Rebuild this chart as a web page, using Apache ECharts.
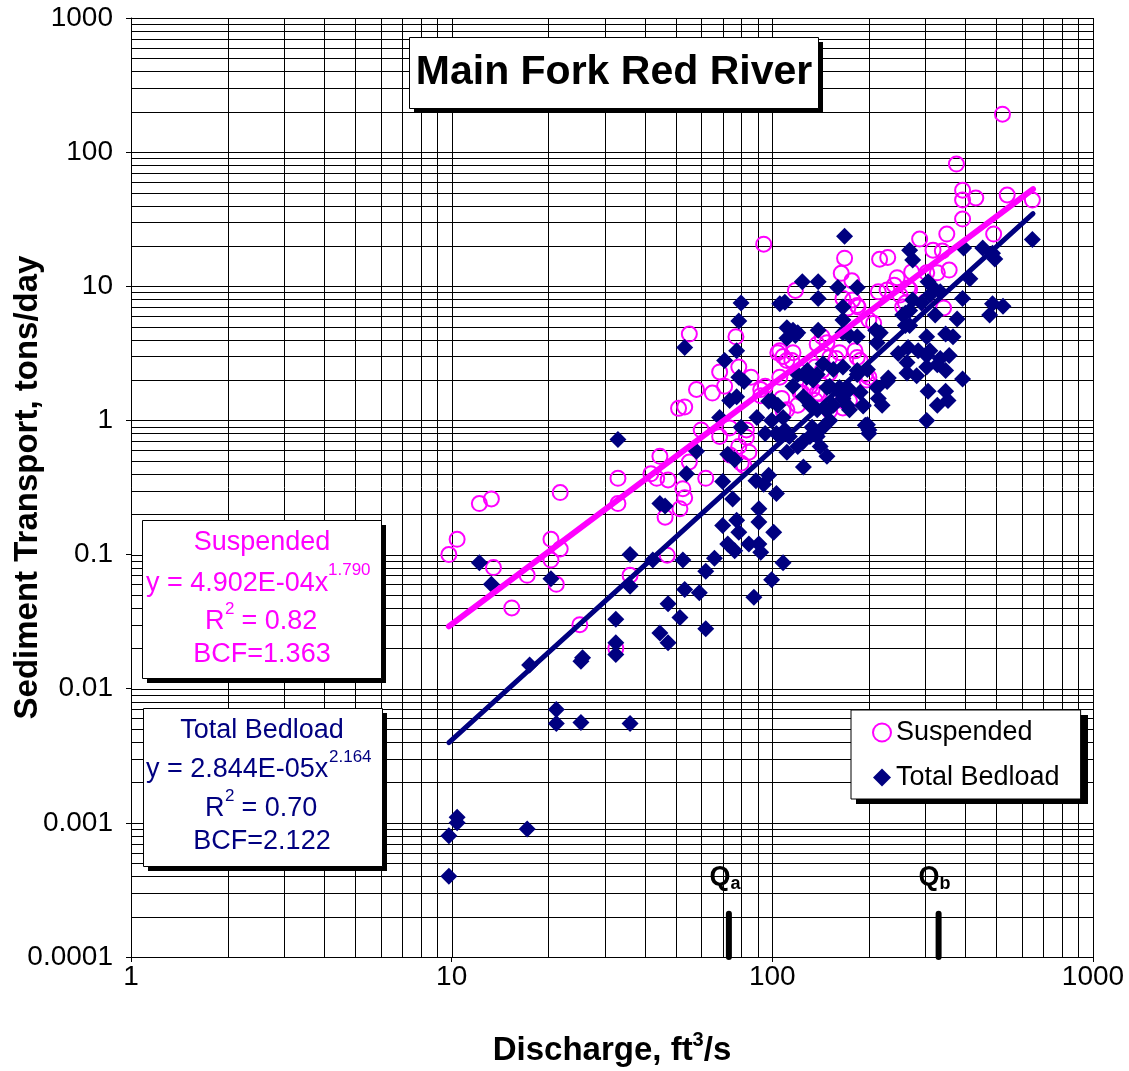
<!DOCTYPE html>
<html lang="en">
<head>
    <meta charset="UTF-8">
    <title>Main Fork Red River</title>
    <script src="https://cdn.jsdelivr.net/npm/echarts@6/dist/echarts.min.js"></script>
    <style>
        html, body { margin: 0; padding: 0; background: #fff; }
        #chart { width: 1129px; height: 1071px; }
    </style>
</head>
<body>
<div id="chart"></div>
<script>
    // suspended sediment samples: discharge (ft3/s) and load (tons/day)
    var susQ = [9.8, 10.4, 12.2, 13.3, 13.5, 15.4, 17.2, 20.4, 21.8, 20.4, 21.2, 21.8, 25.1, 33, 33, 36, 32.5,
        44.6, 41.8, 47.3, 46.3, 47, 51.5, 52.6, 53.3, 43.6, 51, 53.3, 55.1, 58, 60, 55.1, 62, 65, 68.5, 71,
        68.5, 73.6, 74, 77, 78.6, 78.6, 80, 81.6, 83, 83, 84.5, 85.8, 92, 95, 94, 92, 105.5, 104, 108, 111,
        107, 105.5, 111, 108, 116, 118, 115, 122, 122, 124, 131, 133, 138, 140, 136, 120, 136, 143, 151,
        138, 148, 144, 151, 143, 162, 158, 184, 188, 151, 166, 166, 174, 168, 164, 177, 166, 178, 185, 172,
        197, 200, 181, 195, 207, 184, 200, 214, 228, 240, 216, 229, 245, 265, 272, 268, 255, 260, 250, 299,
        303, 327, 342, 356, 288, 317, 339, 350, 392, 490, 375, 392, 392, 431, 540, 647, 522];
    var susLoad = [0.1, 0.13, 0.24, 0.26, 0.08, 0.04, 0.07, 0.13, 0.11, 0.091, 0.06, 0.29, 0.03, 0.37, 0.24, 0.07, 0.02,
        0.54, 0.40, 0.36, 0.19, 0.099, 0.22, 0.31, 0.265, 0.37, 1.23, 1.26, 4.4, 1.7, 0.85, 0.49, 0.37, 1.6, 2.3, 1.8,
        0.76, 0.88, 0.55, 4.2, 2.5, 0.64, 0.48, 0.46, 0.75, 0.85, 0.58, 2.1, 1.7, 1.8, 20.6, 1.53, 3.3, 3.2, 3.0, 2.8,
        1.46, 2.1, 1.2, 1.18, 3.2, 9.3, 2.8, 2.3, 1.62, 1.6, 1.8, 1.7, 1.6, 1.58, 1.41, 1.3, 2.5, 2.36, 2.26,
        3.7, 3.8, 3.15, 2.95, 4.2, 3.2, 2.9, 2.95, 2.8, 1.18, 1.4, 1.24, 1.4, 16.2, 12.5, 11.0, 8.1, 7.9, 7.0, 6.9,
        2.0, 2.1, 3.3, 2.2, 5.3, 7.2, 5.6, 9.1, 9.4, 10.2, 15.9, 16.4, 11.6, 9.7, 12.8, 9.5, 7.0, 7.5, 8.6, 7.6,
        12.6, 12.6, 6.9, 13.2, 22.5, 18.6, 18.3, 24.5, 31.7, 24.5, 81.5, 52, 44, 45.5, 47.9, 43.9, 192];

    // total bedload samples
    var bedQ = [9.8, 9.8, 10.4, 10.4, 17.2, 12.2, 13.3, 17.5, 20.4, 21.2, 21.2, 25.3, 25.3, 25.6, 33, 36, 36, 32.5,
        32.5, 32.5, 36, 44.6, 46.3, 42.4, 47.3, 44.6, 47.3, 52.6, 53.3, 59.2, 51.5, 62, 62, 66, 54, 58, 53.3,
        70, 75.2, 70, 77.4, 78.6, 72.6, 76.3, 84.5, 90.8, 92, 90.8, 90.8, 101, 103, 94, 88.9, 97.4, 108, 99.5,
        87.6, 79.9, 78.6, 71, 77.4, 78.6, 81.6, 73.6, 77.4, 89.5, 99.5, 99.5, 68.5, 79.9, 72.6, 76.3, 109.4,
        105.5, 111, 116, 111, 116, 109.4, 105.5, 95, 103, 97.4, 104, 108, 128.6, 138, 151, 162, 131, 148, 151,
        144, 131, 125, 148, 133, 138, 141, 125, 113, 120, 111, 166, 171, 174, 192, 200, 198, 168, 124, 139, 139,
        160, 184, 166, 166, 120, 139, 166, 118, 174, 184, 210, 217, 255, 268, 292, 317, 310, 268, 274, 247, 265,
        285, 303, 263, 303, 327, 347, 144, 155, 166, 184, 198, 120, 128, 134, 148, 162, 174, 188, 212, 228, 125,
        131, 138, 155, 192, 214, 220, 647, 395, 453, 486, 494, 306, 334, 413, 392, 274, 260, 322, 377, 486, 524,
        476, 260, 268, 303, 347, 366, 212, 310, 356, 334, 184, 263, 282, 230, 392, 306, 347, 353, 327, 303, 195, 200];
    var bedLoad = [0.0008, 0.0004, 0.0011, 0.001, 0.0009, 0.087, 0.06, 0.015, 0.066, 0.007, 0.0055, 0.0056, 0.016,
        0.017, 0.72, 0.1, 0.058, 0.033, 0.022, 0.018, 0.0055, 0.24, 0.23, 0.091, 0.043, 0.026, 0.022, 0.091, 0.055,
        0.052, 0.034, 0.028, 0.075, 0.094, 0.4, 0.59, 3.5, 0.35, 0.26, 0.165, 0.18, 0.147, 0.12, 0.107, 0.12, 0.12,
        0.104, 0.175, 0.22, 0.147, 0.285, 0.335, 0.355, 0.39, 0.087, 0.065, 0.048, 7.5, 5.5, 2.8, 3.3, 2.1, 1.95,
        1.41, 1.5, 1.05, 1.0, 1.41, 1.05, 0.89, 0.56, 0.51, 7.6, 7.4, 4.9, 4.7, 4.1, 1.8, 0.85, 0.76, 0.8, 0.8,
        1.39, 1.3, 1.05, 2.36, 2.2, 1.8, 1.62, 1.35, 1.18, 1.0, 0.89, 0.76, 0.45, 0.54, 0.89, 0.76, 0.64, 0.7,
        0.76, 0.64, 0.58, 1.46, 1.3, 1.2, 1.28, 0.85, 0.93, 23.6, 10.8, 10.8, 8.1, 9.8, 9.8, 7.0, 5.6, 4.5, 4.7,
        4.5, 4.3, 4.3, 4.2, 4.7, 4.5, 6.1, 6.6, 7.5, 9.8, 8.6, 18.6, 15.7, 3.15, 3.5, 3.3, 3.05, 2.7, 2.5, 2.6,
        2.36, 2.65, 2.4, 2.5, 2.36, 2.4, 2.2, 2.1, 2.0, 1.76, 1.76, 1.7, 1.62, 1.76, 1.95, 1.5, 1.3, 1.2, 1.3,
        1.3, 1.46, 1.3, 22.3, 19.3, 19.3, 17.6, 16, 10.8, 9.1, 11.4, 8.1, 7.9, 6.3, 6.1, 5.7, 7.4, 7.1, 6.1,
        5.1, 5.1, 4.2, 4.4, 4.2, 3.8, 3.3, 3.05, 2.9, 2.2, 2.26, 2.15, 2.07, 2.04, 1.65, 1.65, 1.41, 1.3, 1.0, 0.92, 0.8];

    // fitted power-law trend lines (end points)
    var susTrendQ = [9.8, 650];
    var susTrendLoad = [0.0292, 53];
    var bedTrendQ = [9.8, 650];
    var bedTrendLoad = [0.00397, 34.8];

    // discharge markers Qa and Qb
    var markerNames = ['a', 'b'];
    var markerQ = [73.2, 330];
    var markerBase = 0.0001;
    var markerTop = 0.00021;

    // axes
    var xTickLabels = ['1', '10', '100', '1000'];
    var yTickLabels = ['0.0001', '0.001', '0.01', '0.1', '1', '10', '100', '1000'];
    var xDecades = [1, 10, 100];
    var yDecades = [0.0001, 0.001, 0.01, 0.1, 1, 10, 100];
    var mantissas = [1, 2, 3, 4, 5, 6, 7, 8, 9];

    var FONT = "'Liberation Sans', Arial, sans-serif";
    var PINK = '#FF00FF';
    var NAVY = '#000080';

    function zip(a, b) {
        return a.map(function (v, i) { return [v, b[i]]; });
    }

    function gridValues(decades, top) {
        var out = [];
        decades.forEach(function (d) {
            mantissas.forEach(function (m) { out.push(+(d * m).toPrecision(3)); });
        });
        out.push(top);
        return out;
    }

    var xGrid = gridValues(xDecades, 1000);
    var yGrid = gridValues(yDecades, 1000);

    function gridSeries(vals, dir) {
        return {
            type: 'custom',
            silent: true,
            z: 1,
            data: vals.map(function (v) { return dir === 'x' ? [v, 1] : [1, v]; }),
            renderItem: function (params, api) {
                var cs = params.coordSys;
                var p = api.coord([api.value(0), api.value(1)]);
                var shape;
                if (dir === 'x') {
                    var x = Math.round(p[0]) + 0.5;
                    shape = {x1: x, y1: cs.y, x2: x, y2: cs.y + cs.height};
                } else {
                    var y = Math.round(p[1]) + 0.5;
                    shape = {x1: cs.x, y1: y, x2: cs.x + cs.width, y2: y};
                }
                return {type: 'line', shape: shape, style: {stroke: '#000', lineWidth: 1}};
            }
        };
    }

    function decadeLabel(labels, offset) {
        return function (v) {
            var i = Math.round(Math.log10(v)) + offset;
            return labels[i] !== undefined ? labels[i] : '';
        };
    }

    function txt(text, x, y, size, color, align, bold) {
        return {
            type: 'text', z: 22, x: x, y: y,
            style: {
                text: text, fill: color, align: align || 'left', verticalAlign: 'middle',
                font: (bold ? 'bold ' : '') + size + 'px ' + FONT
            }
        };
    }

    function box(x, y, w, h, zBase) {
        return [
            {type: 'rect', z: zBase, shape: {x: x + 5, y: y + 5, width: w, height: h}, style: {fill: '#000'}},
            {type: 'rect', z: zBase + 1, shape: {x: x + 0.5, y: y + 0.5, width: w, height: h},
                style: {fill: '#fff', stroke: '#000', lineWidth: 1}}
        ];
    }

    var graphics = [].concat(
        box(409, 37, 409, 71, 20),
        [txt('Main Fork Red River', 614, 73, 41, '#000', 'center', true)],
        box(142, 520, 239, 158, 20),
        [
            txt('Suspended', 262, 543, 27, PINK, 'center'),
            txt('y = 4.902E-04x', 146, 584, 27, PINK),
            txt('1.790', 328, 570, 17, PINK),
            txt('R', 205, 622, 27, PINK),
            txt('2', 225, 609, 17, PINK),
            txt(' = 0.82', 234, 622, 27, PINK),
            txt('BCF=1.363', 262, 655, 27, PINK, 'center')
        ],
        box(143, 708, 239, 158, 20),
        [
            txt('Total Bedload', 262, 731, 27, NAVY, 'center'),
            txt('y = 2.844E-05x', 146, 770, 27, NAVY),
            txt('2.164', 329, 757, 17, NAVY),
            txt('R', 205, 809, 27, NAVY),
            txt('2', 225, 796, 17, NAVY),
            txt(' = 0.70', 234, 809, 27, NAVY),
            txt('BCF=2.122', 262, 842, 27, NAVY, 'center')
        ],
        [{type: 'rect', z: 3, shape: {x: 856, y: 715, width: 232, height: 89}, style: {fill: '#000'}}]
    );

    var markerSeries = markerQ.map(function (q, i) {
        return {
            type: 'line', z: 7, silent: true, symbol: 'none',
            data: [[q, markerBase], [q, markerTop]],
            lineStyle: {color: '#000', width: 6, cap: 'round', opacity: 1}
        };
    });

    var markerLabels = {
        type: 'scatter', z: 7, silent: true, symbolSize: 1,
        itemStyle: {color: 'rgba(0,0,0,0)', opacity: 1},
        data: markerQ.map(function (q, i) { return {name: markerNames[i], value: [q, markerTop]}; }),
        label: {
            show: true, position: 'top', distance: 20, offset: [-4, 0],
            formatter: function (p) { return '{q|Q}{s|' + p.name + '}'; },
            rich: {
                q: {fontFamily: FONT, fontSize: 27, fontWeight: 'bold', color: '#000'},
                s: {fontFamily: FONT, fontSize: 18, fontWeight: 'bold', color: '#000',
                    verticalAlign: 'bottom', padding: [14, 0, 0, 0]}
            }
        }
    };

    var chart = echarts.init(document.getElementById('chart'));
    chart.setOption({
        animation: false,
        backgroundColor: '#fff',
        textStyle: {fontFamily: FONT},
        grid: {left: 131, top: 18, right: 36, bottom: 114, outerBoundsMode: 'none', containLabel: false},
        legend: {
            orient: 'vertical', left: 851, top: 710,
            data: ['Suspended', 'Total Bedload'],
            itemWidth: 18, itemHeight: 18, itemGap: 18,
            padding: [9, 21, 8, 21],
            backgroundColor: '#fff', borderColor: '#000', borderWidth: 1,
            textStyle: {fontFamily: FONT, fontSize: 27, color: '#000'}
        },
        xAxis: {
            type: 'log', logBase: 10, min: 1, max: 1000, splitNumber: 3,
            name: '{b|Discharge, ft}{s|3}{b|/s}', nameLocation: 'middle', nameGap: 73,
            nameMoveOverlap: false,
            nameTextStyle: {
                rich: {
                    b: {fontFamily: FONT, fontSize: 33, fontWeight: 'bold', color: '#000'},
                    s: {fontFamily: FONT, fontSize: 20, fontWeight: 'bold', color: '#000',
                        verticalAlign: 'top', padding: [0, 0, 21, 0]}
                }
            },
            axisLine: {lineStyle: {color: '#000', width: 1}},
            axisTick: {show: true, length: 5, lineStyle: {color: '#000'}},
            axisLabel: {fontFamily: FONT, fontSize: 28, color: '#000', margin: 6,
                formatter: decadeLabel(xTickLabels, 0)},
            splitLine: {show: false}
        },
        yAxis: {
            type: 'log', logBase: 10, min: 0.0001, max: 1000, splitNumber: 7,
            name: 'Sediment Transport, tons/day', nameLocation: 'middle', nameRotate: 90, nameGap: 87,
            nameMoveOverlap: false,
            nameTextStyle: {fontFamily: FONT, fontSize: 33, fontWeight: 'bold', color: '#000'},
            axisLine: {lineStyle: {color: '#000', width: 1}},
            axisTick: {show: true, length: 5, lineStyle: {color: '#000'}},
            axisLabel: {fontFamily: FONT, fontSize: 28, color: '#000', margin: 18,
                formatter: decadeLabel(yTickLabels, 4)},
            splitLine: {show: false}
        },
        graphic: graphics,
        series: [
            gridSeries(xGrid, 'x'),
            gridSeries(yGrid, 'y'),
            {
                name: 'Suspended', type: 'scatter', z: 3,
                symbol: 'circle', symbolSize: 15,
                itemStyle: {color: 'rgba(255,255,255,0)', borderColor: PINK, borderWidth: 2, opacity: 1},
                data: zip(susQ, susLoad)
            },
            {
                name: 'Total Bedload', type: 'scatter', z: 4,
                symbol: 'diamond', symbolSize: 17,
                itemStyle: {color: NAVY, opacity: 1},
                data: zip(bedQ, bedLoad)
            },
            {
                type: 'line', z: 5, silent: true, symbol: 'none',
                lineStyle: {color: NAVY, width: 5, cap: 'round'},
                data: zip(bedTrendQ, bedTrendLoad)
            },
            {
                type: 'line', z: 6, silent: true, symbol: 'none',
                lineStyle: {color: PINK, width: 6, cap: 'round'},
                data: zip(susTrendQ, susTrendLoad)
            },
            markerLabels
        ].concat(markerSeries)
    });
</script>
</body>
</html>
